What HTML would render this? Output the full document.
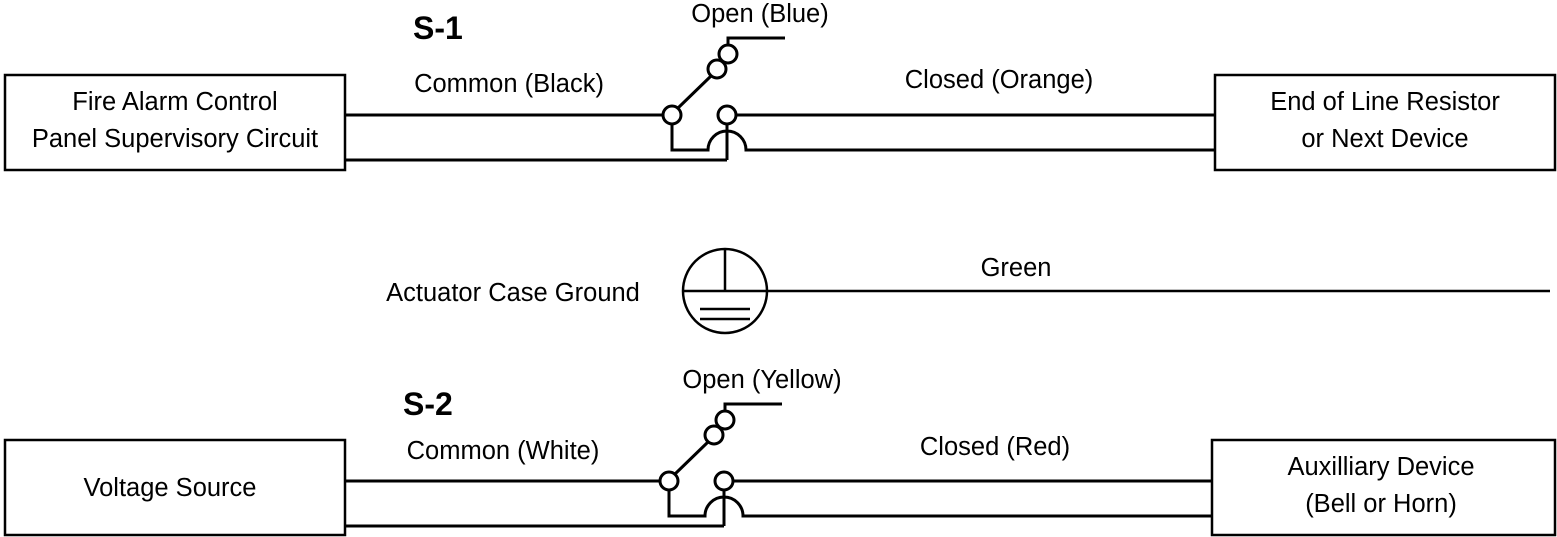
<!DOCTYPE html>
<html><head><style>
body{margin:0;background:#fff;}
svg{display:block;}
text{font-family:"Liberation Sans",Arial,sans-serif;font-size:25.5px;fill:#000;}
</style></head><body>
<svg width="1557" height="537" viewBox="0 0 1557 537" xmlns="http://www.w3.org/2000/svg">
<g fill="none" stroke="#000" stroke-width="2.5">
<rect x="5" y="75" width="340" height="95"/>
<rect x="1215" y="75" width="340" height="95"/>
<rect x="5" y="440" width="340" height="95"/>
<rect x="1212" y="440" width="343" height="95"/>
</g>
<g fill="none" stroke="#000" stroke-width="3">
<line x1="345" y1="115" x2="663" y2="115"/>
<line x1="345" y1="160" x2="727" y2="160"/>
<line x1="727" y1="124" x2="727" y2="160"/>
<line x1="736" y1="115" x2="1215" y2="115"/>
<path d="M672 124 V150 H708 A19 19 0 0 1 746 150 H1215"/>
<line x1="678" y1="108" x2="711" y2="76"/>
<path d="M728 45 V38 H785"/>
<circle cx="672" cy="115" r="9" fill="#fff"/>
<circle cx="727" cy="115" r="9" fill="#fff"/>
<circle cx="717" cy="69" r="9" fill="#fff"/>
<circle cx="728" cy="54" r="9" fill="#fff"/>
</g>
<g fill="none" stroke="#000" stroke-width="3">
<line x1="345" y1="481" x2="660" y2="481"/>
<line x1="345" y1="526" x2="724" y2="526"/>
<line x1="724" y1="490" x2="724" y2="526"/>
<line x1="733" y1="481" x2="1212" y2="481"/>
<path d="M669 490 V516 H705 A19 19 0 0 1 743 516 H1212"/>
<line x1="675" y1="474" x2="708" y2="442"/>
<path d="M725 411 V404 H782"/>
<circle cx="669" cy="481" r="9" fill="#fff"/>
<circle cx="724" cy="481" r="9" fill="#fff"/>
<circle cx="714" cy="435" r="9" fill="#fff"/>
<circle cx="725" cy="420" r="9" fill="#fff"/>
</g>
<g fill="none" stroke="#000" stroke-width="2.5">
<circle cx="725" cy="291" r="42"/>
<line x1="683" y1="291" x2="1550" y2="291"/>
<line x1="725" y1="249" x2="725" y2="291"/>
<line x1="700" y1="309" x2="750" y2="309"/>
<line x1="700" y1="319" x2="750" y2="319"/>
</g>
<text x="175" y="110" text-anchor="middle">Fire Alarm Control</text>
<text x="175" y="147" text-anchor="middle">Panel Supervisory Circuit</text>
<text x="1385" y="110" text-anchor="middle">End of Line Resistor</text>
<text x="1385" y="147" text-anchor="middle">or Next Device</text>
<text x="170" y="496" text-anchor="middle">Voltage Source</text>
<text x="1381" y="475" text-anchor="middle">Auxilliary Device</text>
<text x="1381" y="512" text-anchor="middle">(Bell or Horn)</text>
<text x="413" y="39" style="font-size:32px;font-weight:bold">S-1</text>
<text x="403" y="415" style="font-size:32px;font-weight:bold">S-2</text>
<text x="760" y="22" text-anchor="middle">Open (Blue)</text>
<text x="509" y="92" text-anchor="middle">Common (Black)</text>
<text x="999" y="88" text-anchor="middle">Closed (Orange)</text>
<text x="513" y="301" text-anchor="middle">Actuator Case Ground</text>
<text x="1016" y="276" text-anchor="middle">Green</text>
<text x="762" y="388" text-anchor="middle">Open (Yellow)</text>
<text x="503" y="459" text-anchor="middle">Common (White)</text>
<text x="995" y="455" text-anchor="middle">Closed (Red)</text>
</svg>
</body></html>
